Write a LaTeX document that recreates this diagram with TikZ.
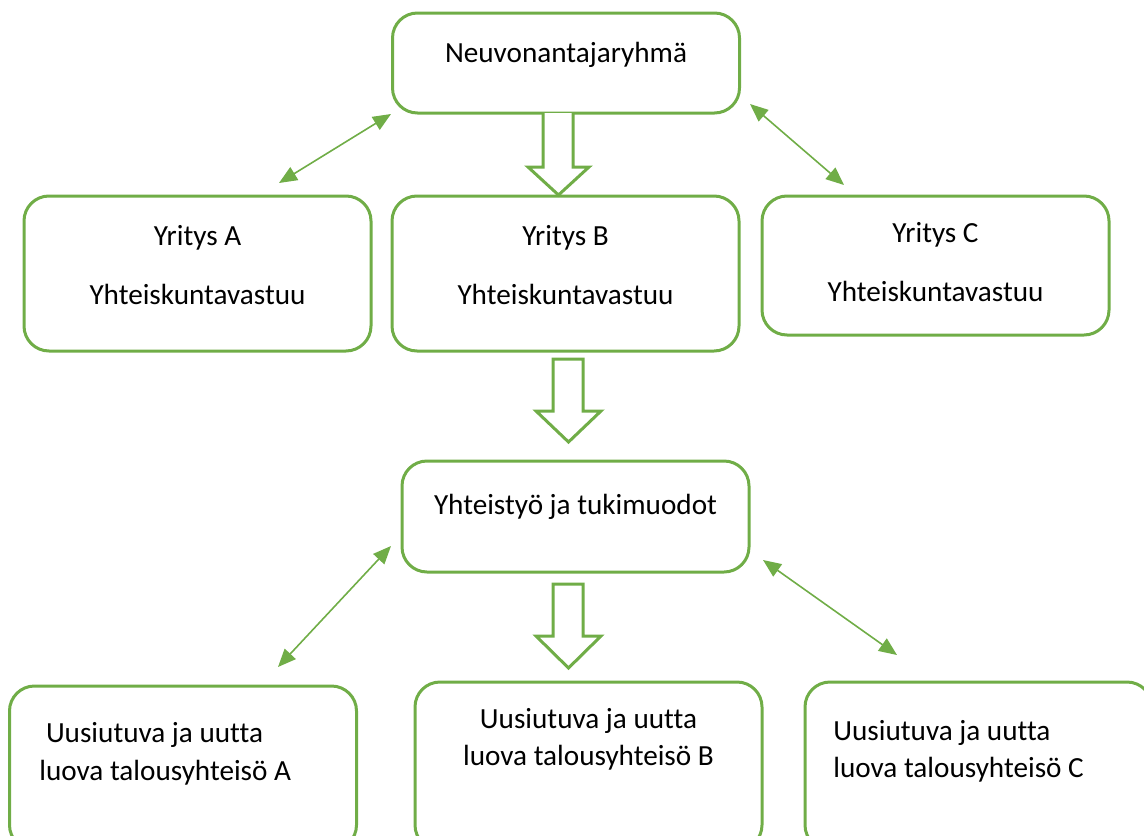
\documentclass[tikz,border=0pt]{standalone}
\usepackage{fontspec}
\setmainfont{Carlito}[Ligatures=NoCommon]
\usetikzlibrary{arrows.meta, positioning}
\definecolor{kgreen}{HTML}{70AD47}

\begin{document}
\begin{tikzpicture}[x=0.5pt, y=-0.5pt,
    box/.style={draw=kgreen, line width=1.5pt, rounded corners=12.5pt, minimum width=173.5pt, inner sep=0pt},
    txt/.style={inner sep=0pt, font=\fontsize{14.6pt}{19pt}\selectfont},
    link/.style={{Triangle[length=9pt, width=7.5pt]}-{Triangle[length=9pt, width=7.5pt]}, draw=kgreen, fill=kgreen, line width=0.8pt},
    hollow/.style={draw=kgreen, line width=1.5pt, fill=white}]
                \useasboundingbox (0,0) rectangle (1144,835);
                \clip (0,0) rectangle (1144,835);

                % Top level
                \node[box, minimum height=50pt] (Neuvo) at (566,63) {};
                \node[txt, anchor=base] (NeuvoT) at (566,62) {Neuvonantajaryhmä};

                % Companies
                \node[box, minimum height=77.5pt] (YA) at (197.5,273.5) {};
                \node[txt, anchor=base] (YAt1) at (197.5,245) {Yritys A};
                \node[txt, anchor=base] (YAt2) at (197.5,304) {Yhteiskuntavastuu};

                \node[box, minimum height=77.5pt] (YB) at (565.5,273.5) {};
                \node[txt, anchor=base] (YBt1) at (565.5,245) {Yritys B};
                \node[txt, anchor=base] (YBt2) at (565.5,304) {Yhteiskuntavastuu};

                \node[box, minimum height=69.5pt] (YC) at (935.5,265.5) {};
                \node[txt, anchor=base] (YCt1) at (935.5,242) {Yritys C};
                \node[txt, anchor=base] (YCt2) at (935.5,301) {Yhteiskuntavastuu};

                % Cooperation
                \node[box, minimum height=55.5pt] (Yht) at (575.5,516.5) {};
                \node[txt, anchor=base] (YhtT) at (575.5,514) {Yhteistyö ja tukimuodot};

                % Economic communities (cut off at the bottom)
                \node[box, minimum height=82pt] (TA) at (183,768) {};
                \node[txt, anchor=base west] (TAt1) at (39,742) {\ Uusiutuva ja uutta};
                \node[txt, anchor=base west] (TAt2) at (39,780) {luova talousyhteisö A};

                \node[box, minimum height=84pt] (TB) at (588.5,766) {};
                \node[txt, anchor=base] (TBt1) at (588.5,728) {Uusiutuva ja uutta};
                \node[txt, anchor=base] (TBt2) at (588.5,765) {luova talousyhteisö B};

                \node[box, minimum height=84pt] (TC) at (978.5,766) {};
                \node[txt, anchor=base west] (TCt1) at (833,740) {Uusiutuva ja uutta};
                \node[txt, anchor=base west] (TCt2) at (833,777) {luova talousyhteisö C};

                % Free ends of the two-way links
                \coordinate (lAN1) at (279,183);
                \coordinate (lAN2) at (391,114);
                \coordinate (lNC1) at (750,104);
                \coordinate (lNC2) at (844,185);
                \coordinate (lYA1) at (391,546);
                \coordinate (lYA2) at (278,667);
                \coordinate (lYC1) at (763,560);
                \coordinate (lYC2) at (897,655);

                % Two-way links
                \draw[link] (lAN1) -- (lAN2);
                \draw[link] (lNC1) -- (lNC2);
                \draw[link] (lYA1) -- (lYA2);
                \draw[link] (lYC1) -- (lYC2);

                % Block arrows
                \draw[hollow] (543,113) -- (543,167) -- (528,167) -- (558.5,195)
                    -- (589,167) -- (573,167) -- (573,113);
                \draw[hollow] (553,359) -- (553,411) -- (536,411) -- (568.5,442)
                    -- (601,411) -- (583,411) -- (583,359) -- cycle;
                \draw[hollow] (553,584) -- (553,636) -- (536,636) -- (568.5,668)
                    -- (601,636) -- (583,636) -- (583,584) -- cycle;
            \end{tikzpicture}
\end{document}
